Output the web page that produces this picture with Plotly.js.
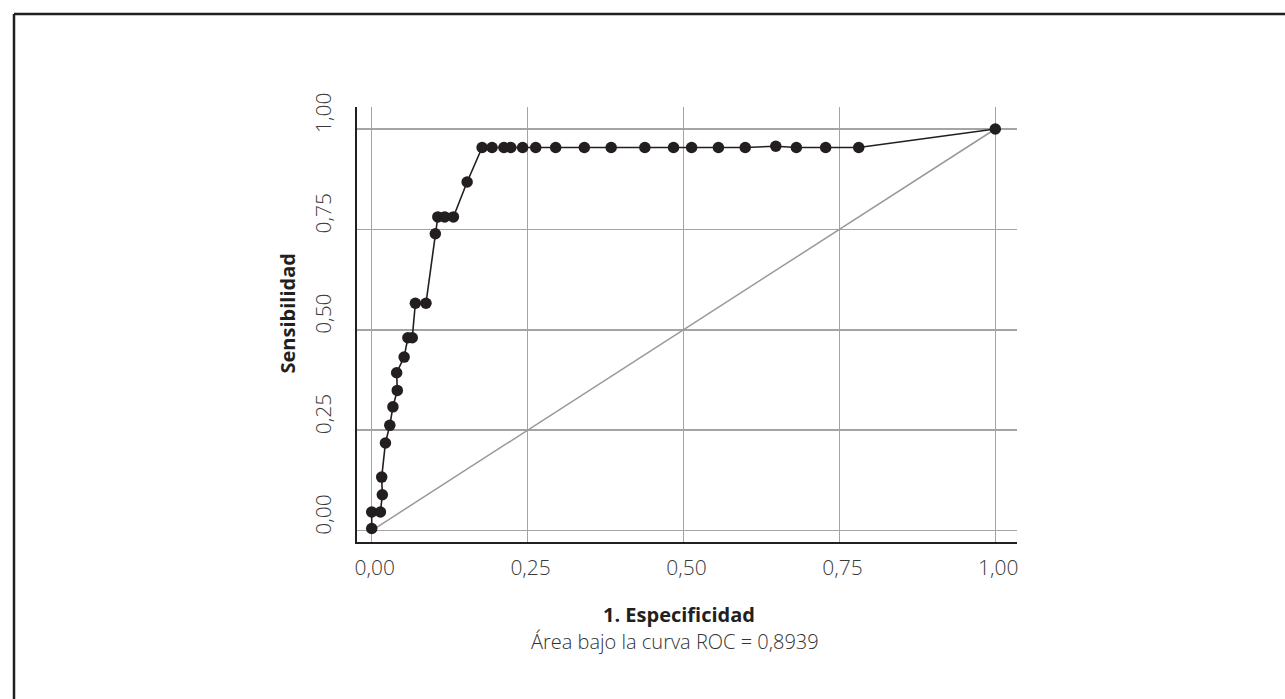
<!DOCTYPE html>
<html>
<head>
<meta charset="utf-8">
<script src="https://cdn.plot.ly/plotly-3.0.1.min.js"></script>
<style>
  html, body { margin: 0; padding: 0; background: #ffffff; }
  #chart { width: 1285px; height: 699px; }
</style>
</head>
<body>
<div id="chart"></div>
<script>
// ROC curve points (1 - especificidad, sensibilidad)
const especificidad1 = [0.000, 0.000, 0.014, 0.017, 0.016, 0.022, 0.029, 0.034, 0.041, 0.040,
  0.052, 0.058, 0.065, 0.070, 0.087, 0.102, 0.106, 0.117, 0.131, 0.153,
  0.177, 0.193, 0.212, 0.223, 0.242, 0.263, 0.295, 0.341, 0.384, 0.438,
  0.484, 0.513, 0.556, 0.599, 0.648, 0.681, 0.728, 0.781, 1.000];
const sensibilidad = [0.005, 0.046, 0.046, 0.089, 0.133, 0.218, 0.262, 0.308, 0.349, 0.393,
  0.432, 0.480, 0.480, 0.566, 0.566, 0.739, 0.781, 0.781, 0.781, 0.868,
  0.954, 0.954, 0.954, 0.954, 0.954, 0.954, 0.954, 0.954, 0.954, 0.954,
  0.954, 0.954, 0.954, 0.954, 0.957, 0.954, 0.954, 0.954, 1.000];
const referenciaX = [0, 1];
const referenciaY = [0, 1];
const tickVals = [0, 0.25, 0.5, 0.75, 1];
const tickText = ['0,00', '0,25', '0,50', '0,75', '1,00'];
const xTitle = '1. Especificidad';
const subTitle = 'Área bajo la curva ROC = 0,8939';
const yTitle = 'Sensibilidad';

const ink = '#231f20';
const gridGray = '#a4a4a4';
const tickFont = { family: 'Open Sans, Lato, sans-serif', size: 21, color: '#3a3a3a', weight: 300 };

const traces = [
  {
    x: referenciaX, y: referenciaY, type: 'scatter', mode: 'lines',
    line: { color: '#999999', width: 1.5 }, hoverinfo: 'skip', showlegend: false
  },
  {
    x: especificidad1, y: sensibilidad, type: 'scatter', mode: 'lines+markers',
    line: { color: ink, width: 1.6 },
    marker: { color: ink, size: 11.5 },
    showlegend: false
  }
];

const W = 1285, H = 699;
const L = 357, R = 268, T = 107, B = 157;
const pw = W - L - R, ph = H - T - B;
const px = v => (v - L) / pw;
const py = v => (H - B - v) / ph;

const layout = {
  width: W, height: H,
  margin: { l: L, r: R, t: T, b: B, pad: 0 },
  paper_bgcolor: '#ffffff', plot_bgcolor: '#ffffff',
  showlegend: false,
  xaxis: {
    range: [-0.0236, 1.0348], tickvals: tickVals, ticktext: tickText,
    showgrid: true, gridcolor: gridGray, gridwidth: 1.5, zeroline: false,
    showline: true, linecolor: ink, linewidth: 2, mirror: false,
    ticks: '', tickfont: tickFont, ticklabelstandoff: 6, ticklabelshift: 3, fixedrange: true
  },
  yaxis: {
    range: [-0.0286, 1.0548], tickvals: tickVals, ticktext: tickText,
    showgrid: true, gridcolor: gridGray, gridwidth: 1.5, zeroline: false,
    showline: true, linecolor: ink, linewidth: 2, mirror: false,
    ticks: '', tickfont: tickFont, tickangle: -90, ticklabelshift: -13,
    ticklabelstandoff: 16, fixedrange: true
  },
  annotations: [
    { text: '<b>' + xTitle + '</b>', xref: 'paper', yref: 'paper', x: px(679), y: py(614),
      xanchor: 'center', yanchor: 'middle', showarrow: false,
      font: { family: 'Open Sans, Lato, sans-serif', size: 20, color: ink } },
    { text: subTitle, xref: 'paper', yref: 'paper', x: px(675), y: py(641),
      xanchor: 'center', yanchor: 'middle', showarrow: false,
      font: { family: 'Open Sans, Lato, sans-serif', size: 20, color: '#333333', weight: 300 } },
    { text: '<b>' + yTitle + '</b>', xref: 'paper', yref: 'paper', x: px(287), y: py(313.5),
      xanchor: 'center', yanchor: 'middle', textangle: -90, showarrow: false,
      font: { family: 'Open Sans, Lato, sans-serif', size: 20, color: ink } }
  ],
  shapes: [
    { type: 'line', xref: 'paper', yref: 'paper', x0: px(14), x1: px(W + 5), y0: py(14), y1: py(14),
      line: { color: ink, width: 2.5 } },
    { type: 'line', xref: 'paper', yref: 'paper', x0: px(14), x1: px(14), y0: py(14), y1: py(H + 5),
      line: { color: ink, width: 2.5 } }
  ]
};

Plotly.newPlot('chart', traces, layout, { staticPlot: true, displayModeBar: false });
</script>
</body>
</html>
